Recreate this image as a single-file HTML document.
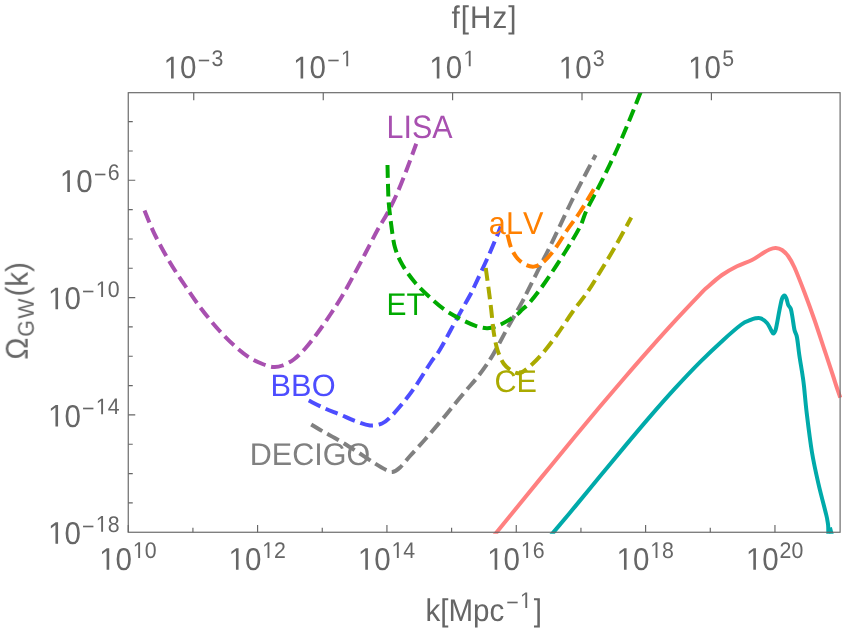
<!DOCTYPE html>
<html><head><meta charset="utf-8"><title>GW sensitivity</title>
<style>html,body{margin:0;padding:0;background:#fff;}svg{display:block;}text{font-family:"Liberation Sans",sans-serif;text-rendering:geometricPrecision;font-kerning:none;}</style></head><body>
<svg width="843" height="631" viewBox="0 0 843 631">
<rect x="0" y="0" width="843" height="631" fill="#ffffff"/>
<defs><clipPath id="clip"><rect x="128.25" y="92.70" width="713.85" height="441.15"/></clipPath><filter id="ga" filterUnits="userSpaceOnUse" x="0" y="0" width="843" height="631"><feOffset dx="0" dy="0"/></filter></defs>
<g clip-path="url(#clip)" fill="none" stroke-linejoin="round">
<path d="M493.40 536.40 C493.95 535.72 491.43 538.78 496.70 532.30 C501.97 525.82 516.12 508.40 525.00 497.50 C533.88 486.60 541.67 477.07 550.00 466.90 C558.33 456.73 566.67 446.57 575.00 436.50 C583.33 426.43 591.67 416.38 600.00 406.50 C608.33 396.62 616.67 386.85 625.00 377.20 C633.33 367.55 641.67 357.98 650.00 348.60 C658.33 339.22 666.67 329.93 675.00 320.90 C683.33 311.87 694.67 299.97 700.00 294.40 C705.33 288.83 703.33 290.73 707.00 287.50 C710.67 284.27 717.00 278.54 722.00 275.00 C727.00 271.46 732.00 268.75 737.00 266.25 C742.00 263.75 747.83 262.08 752.00 260.00 C756.17 257.92 759.08 255.50 762.00 253.75 C764.92 252.00 767.21 250.46 769.50 249.50 C771.79 248.54 773.67 247.92 775.75 248.00 C777.83 248.08 779.92 248.62 782.00 250.00 C784.08 251.38 786.17 253.33 788.25 256.25 C790.33 259.17 791.79 261.46 794.50 267.50 C797.21 273.54 801.17 283.75 804.50 292.50 C807.83 301.25 811.17 310.42 814.50 320.00 C817.83 329.58 821.45 340.83 824.50 350.00 C827.55 359.17 830.82 368.96 832.80 375.00 C834.78 381.04 835.15 382.47 836.40 386.25 C837.65 390.03 839.65 395.79 840.30 397.70" stroke="#FF8080" stroke-width="4.0"/>
<path d="M550.60 535.60 C551.13 534.98 549.73 536.73 553.80 531.90 C557.87 527.07 567.30 515.87 575.00 506.60 C582.70 497.33 591.67 486.38 600.00 476.30 C608.33 466.22 616.67 456.05 625.00 446.10 C633.33 436.15 641.67 426.22 650.00 416.60 C658.33 406.98 666.67 397.48 675.00 388.40 C683.33 379.32 692.03 370.10 700.00 362.10 C707.97 354.10 715.90 346.67 722.80 340.40 C729.70 334.13 736.87 327.87 741.40 324.50 C745.93 321.13 747.65 321.23 750.00 320.20 C752.35 319.17 753.71 318.62 755.50 318.30 C757.29 317.98 758.83 317.52 760.75 318.30 C762.67 319.08 765.33 321.13 767.00 323.00 C768.67 324.87 769.71 327.75 770.75 329.50 C771.79 331.25 772.42 333.50 773.25 333.50 C774.08 333.50 774.71 333.42 775.75 329.50 C776.79 325.58 778.46 315.12 779.50 310.00 C780.54 304.88 781.17 301.17 782.00 298.75 C782.83 296.33 783.75 295.50 784.50 295.50 C785.25 295.50 785.88 297.17 786.50 298.75 C787.12 300.33 787.54 303.33 788.25 305.00 C788.96 306.67 790.04 306.67 790.75 308.75 C791.46 310.83 791.88 313.96 792.50 317.50 C793.12 321.04 793.75 326.67 794.50 330.00 C795.25 333.33 796.20 333.33 797.00 337.50 C797.80 341.67 798.38 348.75 799.30 355.00 C800.22 361.25 801.72 369.79 802.50 375.00 C803.28 380.21 803.28 379.78 804.00 386.25 C804.72 392.72 805.47 402.76 806.80 413.80 C808.13 424.84 810.07 440.87 812.00 452.50 C813.93 464.13 816.03 473.25 818.40 483.60 C820.77 493.95 824.72 508.53 826.20 514.60 C827.68 520.67 826.98 518.27 827.30 520.00 C827.62 521.73 827.93 523.33 828.10 525.00 C828.27 526.67 828.27 528.33 828.30 530.00 C828.33 531.67 828.30 534.17 828.30 535.00" stroke="#00AAAA" stroke-width="4.0"/>
<path d="M144.50 210.50 C146.25 214.58 150.75 226.33 155.00 235.00 C159.25 243.67 164.92 253.96 170.00 262.50 C175.08 271.04 180.29 278.54 185.50 286.25 C190.71 293.96 195.71 301.46 201.25 308.75 C206.79 316.04 213.12 323.75 218.75 330.00 C224.38 336.25 229.79 341.58 235.00 346.25 C240.21 350.92 245.21 354.96 250.00 358.00 C254.79 361.04 259.79 363.00 263.75 364.50 C267.71 366.00 270.62 366.83 273.75 367.00 C276.88 367.17 279.17 366.75 282.50 365.50 C285.83 364.25 290.00 362.29 293.75 359.50 C297.50 356.71 301.04 353.17 305.00 348.75 C308.96 344.33 313.33 338.62 317.50 333.00 C321.67 327.38 326.04 320.92 330.00 315.00 C333.96 309.08 337.50 303.75 341.25 297.50 C345.00 291.25 348.54 284.75 352.50 277.50 C356.46 270.25 360.83 261.92 365.00 254.00 C369.17 246.08 373.75 236.83 377.50 230.00 C381.25 223.17 384.17 219.25 387.50 213.00 C390.83 206.75 394.17 200.08 397.50 192.50 C400.83 184.92 404.38 175.62 407.50 167.50 C410.62 159.38 414.79 147.71 416.25 143.75" stroke="#A850B0" stroke-width="4.0" stroke-dasharray="12.9 5.85"/>
<path d="M308.75 400.50 C311.46 401.83 319.79 406.17 325.00 408.50 C330.21 410.83 335.00 412.42 340.00 414.50 C345.00 416.58 350.00 419.17 355.00 421.00 C360.00 422.83 365.50 425.08 370.00 425.50 C374.50 425.92 378.67 424.83 382.00 423.50 C385.33 422.17 386.58 420.83 390.00 417.50 C393.42 414.17 398.33 408.58 402.50 403.50 C406.67 398.42 410.29 393.83 415.00 387.00 C419.71 380.17 426.58 368.75 430.75 362.50 C434.92 356.25 435.54 357.00 440.00 349.50 C444.46 342.00 452.29 326.92 457.50 317.50 C462.71 308.08 468.33 298.42 471.25 293.00 C474.17 287.58 471.88 291.75 475.00 285.00 C478.12 278.25 485.70 262.25 490.00 252.50 C494.30 242.75 499.00 230.83 500.80 226.50" stroke="#4D4DFF" stroke-width="4.0" stroke-dasharray="12.9 5.85"/>
<path d="M311.25 424.50 C313.12 425.62 317.71 428.50 322.50 431.25 C327.29 434.00 334.17 437.54 340.00 441.00 C345.83 444.46 351.67 448.25 357.50 452.00 C363.33 455.75 370.21 460.50 375.00 463.50 C379.79 466.50 383.33 468.58 386.25 470.00 C389.17 471.42 390.21 472.42 392.50 472.00 C394.79 471.58 397.08 470.17 400.00 467.50 C402.92 464.83 405.83 460.67 410.00 456.00 C414.17 451.33 419.58 445.67 425.00 439.50 C430.42 433.33 438.21 424.08 442.50 419.00 C446.79 413.92 447.00 413.55 450.75 409.00 C454.50 404.45 460.46 397.12 465.00 391.70 C469.54 386.28 473.83 381.83 478.00 376.50 C482.17 371.17 486.50 365.12 490.00 359.70 C493.50 354.28 496.08 349.28 499.00 344.00 C501.92 338.72 503.58 335.10 507.50 328.00 C511.42 320.90 519.17 307.50 522.50 301.40 C525.83 295.30 524.58 297.23 527.50 291.40 C530.42 285.57 535.83 274.73 540.00 266.40 C544.17 258.07 547.50 251.72 552.50 241.40 C557.50 231.08 565.00 214.73 570.00 204.50 C575.00 194.27 578.23 188.25 582.50 180.00 C586.77 171.75 593.42 159.17 595.60 155.00" stroke="#808080" stroke-width="4.0" stroke-dasharray="12.9 5.85"/>
<path d="M387.50 165.00 C387.58 168.33 387.79 178.67 388.00 185.00 C388.21 191.33 388.21 196.33 388.75 203.00 C389.29 209.67 390.21 217.58 391.25 225.00 C392.29 232.42 393.12 240.83 395.00 247.50 C396.88 254.17 399.17 259.17 402.50 265.00 C405.83 270.83 410.42 277.08 415.00 282.50 C419.58 287.92 425.00 292.92 430.00 297.50 C435.00 302.08 440.00 306.46 445.00 310.00 C450.00 313.54 455.00 316.15 460.00 318.75 C465.00 321.35 470.42 324.03 475.00 325.60 C479.58 327.18 483.33 328.33 487.50 328.20 C491.67 328.07 495.42 326.83 500.00 324.80 C504.58 322.77 511.25 318.58 515.00 316.00 C518.75 313.42 519.88 311.75 522.50 309.30 C525.12 306.85 527.00 305.77 530.75 301.30 C534.50 296.83 539.29 290.68 545.00 282.50 C550.71 274.32 559.17 261.48 565.00 252.20 C570.83 242.92 576.38 233.83 580.00 226.80 C583.62 219.77 583.20 217.38 586.70 210.00 C590.20 202.62 596.00 192.50 601.00 182.50 C606.00 172.50 611.95 160.42 616.70 150.00 C621.45 139.58 625.57 129.50 629.50 120.00 C633.43 110.50 638.05 98.67 640.30 93.00 C642.55 87.33 642.55 87.17 643.00 86.00" stroke="#00AA00" stroke-width="4.0" stroke-dasharray="12.9 5.85"/>
<path d="M507.50 234.50 C508.12 236.75 509.58 244.00 511.25 248.00 C512.92 252.00 515.00 255.67 517.50 258.50 C520.00 261.33 523.33 263.68 526.25 265.00 C529.17 266.32 531.88 267.15 535.00 266.40 C538.12 265.65 541.46 263.73 545.00 260.50 C548.54 257.27 552.50 252.17 556.25 247.00 C560.00 241.83 563.54 235.33 567.50 229.50 C571.46 223.67 575.53 218.83 580.00 212.00 C584.47 205.17 591.92 192.42 594.30 188.50" stroke="#FF8000" stroke-width="4.0" stroke-dasharray="12.9 5.85"/>
<path d="M485.75 268.00 C486.25 271.67 487.83 283.00 488.75 290.00 C489.67 297.00 490.42 302.92 491.25 310.00 C492.08 317.08 492.71 325.83 493.75 332.50 C494.79 339.17 495.83 344.79 497.50 350.00 C499.17 355.21 501.25 360.21 503.75 363.75 C506.25 367.29 509.79 369.71 512.50 371.25 C515.21 372.79 517.08 373.83 520.00 373.00 C522.92 372.17 526.25 369.50 530.00 366.25 C533.75 363.00 537.92 358.88 542.50 353.50 C547.08 348.12 552.50 340.92 557.50 334.00 C562.50 327.08 567.50 319.00 572.50 312.00 C577.50 305.00 582.92 298.67 587.50 292.00 C592.08 285.33 595.42 279.50 600.00 272.00 C604.58 264.50 609.79 256.08 615.00 247.00 C620.21 237.92 628.54 222.42 631.25 217.50" stroke="#AAAA00" stroke-width="4.0" stroke-dasharray="12.9 5.85"/>
<path d="M829.9 527.5L831.9 535" stroke="#00AAAA" stroke-width="4"/>
</g>
<rect x="128.25" y="92.70" width="711.85" height="439.55" fill="none" stroke="#666666" stroke-width="1.15"/>
<path d="M128.25 532.25v-7.25 M192.92 532.25v-4.50 M257.59 532.25v-7.25 M322.26 532.25v-4.50 M386.93 532.25v-7.25 M451.60 532.25v-4.50 M516.27 532.25v-7.25 M580.94 532.25v-4.50 M645.61 532.25v-7.25 M710.28 532.25v-4.50 M774.95 532.25v-7.25 M193.75 92.70v7.50 M323.25 92.70v7.50 M452.60 92.70v7.50 M582.00 92.70v7.50 M711.40 92.70v7.50 M128.25 502.92h4.50 M128.25 473.59h4.50 M128.25 444.26h4.50 M128.25 414.93h7.00 M128.25 385.60h4.50 M128.25 356.27h4.50 M128.25 326.94h4.50 M128.25 297.61h7.00 M128.25 268.28h4.50 M128.25 238.95h4.50 M128.25 209.62h4.50 M128.25 180.29h7.00 M128.25 150.96h4.50 M128.25 121.63h4.50" stroke="#666666" stroke-width="1.15" fill="none"/>
<g filter="url(#ga)">
<g transform="translate(99.18 569.70) scale(0.985 1.045)" fill="#666666"><path d="M7.544 0V-18.120L2.886 -14.795V-17.285L7.764 -20.640H10.195V0Z"/><text x="16.680" font-size="30">0</text></g><g transform="translate(132.84 557.90) scale(1.000 1.060)" fill="#666666"><path d="M5.356 0V-12.865L2.049 -10.504V-12.272L5.512 -14.654H7.239V0Z"/><text x="11.843" font-size="21.3">0</text></g>
<g transform="translate(228.52 569.70) scale(0.985 1.045)" fill="#666666"><path d="M7.544 0V-18.120L2.886 -14.795V-17.285L7.764 -20.640H10.195V0Z"/><text x="16.680" font-size="30">0</text></g><g transform="translate(262.18 557.90) scale(1.000 1.060)" fill="#666666"><path d="M5.356 0V-12.865L2.049 -10.504V-12.272L5.512 -14.654H7.239V0Z"/><text x="11.843" font-size="21.3">2</text></g>
<g transform="translate(357.86 569.70) scale(0.985 1.045)" fill="#666666"><path d="M7.544 0V-18.120L2.886 -14.795V-17.285L7.764 -20.640H10.195V0Z"/><text x="16.680" font-size="30">0</text></g><g transform="translate(391.52 557.90) scale(1.000 1.060)" fill="#666666"><path d="M5.356 0V-12.865L2.049 -10.504V-12.272L5.512 -14.654H7.239V0Z"/><text x="11.843" font-size="21.3">4</text></g>
<g transform="translate(487.20 569.70) scale(0.985 1.045)" fill="#666666"><path d="M7.544 0V-18.120L2.886 -14.795V-17.285L7.764 -20.640H10.195V0Z"/><text x="16.680" font-size="30">0</text></g><g transform="translate(520.86 557.90) scale(1.000 1.060)" fill="#666666"><path d="M5.356 0V-12.865L2.049 -10.504V-12.272L5.512 -14.654H7.239V0Z"/><text x="11.843" font-size="21.3">6</text></g>
<g transform="translate(616.54 569.70) scale(0.985 1.045)" fill="#666666"><path d="M7.544 0V-18.120L2.886 -14.795V-17.285L7.764 -20.640H10.195V0Z"/><text x="16.680" font-size="30">0</text></g><g transform="translate(650.20 557.90) scale(1.000 1.060)" fill="#666666"><path d="M5.356 0V-12.865L2.049 -10.504V-12.272L5.512 -14.654H7.239V0Z"/><text x="11.843" font-size="21.3">8</text></g>
<g transform="translate(745.88 569.70) scale(0.985 1.045)" fill="#666666"><path d="M7.544 0V-18.120L2.886 -14.795V-17.285L7.764 -20.640H10.195V0Z"/><text x="16.680" font-size="30">0</text></g><text transform="translate(779.54 557.90) scale(1.000 1.060)" font-size="21.3" fill="#666666">20</text>
<g transform="translate(163.63 78.40) scale(0.985 1.045)" fill="#666666"><path d="M7.544 0V-18.120L2.886 -14.795V-17.285L7.764 -20.640H10.195V0Z"/><text x="16.680" font-size="30">0</text></g><text transform="translate(197.69 68.10) scale(1.000 1.060)" font-size="21.3" fill="#666666">−</text><text transform="translate(211.43 66.20) scale(1.000 1.060)" font-size="21.3" fill="#666666">3</text>
<g transform="translate(293.13 78.40) scale(0.985 1.045)" fill="#666666"><path d="M7.544 0V-18.120L2.886 -14.795V-17.285L7.764 -20.640H10.195V0Z"/><text x="16.680" font-size="30">0</text></g><text transform="translate(327.19 68.10) scale(1.000 1.060)" font-size="21.3" fill="#666666">−</text><g transform="translate(340.93 66.20) scale(1.000 1.060)" fill="#666666"><path d="M5.356 0V-12.865L2.049 -10.504V-12.272L5.512 -14.654H7.239V0Z"/></g>
<g transform="translate(429.35 78.40) scale(0.985 1.045)" fill="#666666"><path d="M7.544 0V-18.120L2.886 -14.795V-17.285L7.764 -20.640H10.195V0Z"/><text x="16.680" font-size="30">0</text></g><g transform="translate(463.41 66.20) scale(1.000 1.060)" fill="#666666"><path d="M5.356 0V-12.865L2.049 -10.504V-12.272L5.512 -14.654H7.239V0Z"/></g>
<g transform="translate(558.75 78.40) scale(0.985 1.045)" fill="#666666"><path d="M7.544 0V-18.120L2.886 -14.795V-17.285L7.764 -20.640H10.195V0Z"/><text x="16.680" font-size="30">0</text></g><text transform="translate(592.81 66.20) scale(1.000 1.060)" font-size="21.3" fill="#666666">3</text>
<g transform="translate(688.15 78.40) scale(0.985 1.045)" fill="#666666"><path d="M7.544 0V-18.120L2.886 -14.795V-17.285L7.764 -20.640H10.195V0Z"/><text x="16.680" font-size="30">0</text></g><text transform="translate(722.21 66.20) scale(1.000 1.060)" font-size="21.3" fill="#666666">5</text>
<g transform="translate(59.86 191.89) scale(0.985 1.045)" fill="#666666"><path d="M7.544 0V-18.120L2.886 -14.795V-17.285L7.764 -20.640H10.195V0Z"/><text x="16.680" font-size="30">0</text></g><text transform="translate(93.92 181.59) scale(1.000 1.060)" font-size="21.3" fill="#666666">−</text><text transform="translate(107.66 179.69) scale(1.000 1.060)" font-size="21.3" fill="#666666">6</text>
<g transform="translate(48.02 309.21) scale(0.985 1.045)" fill="#666666"><path d="M7.544 0V-18.120L2.886 -14.795V-17.285L7.764 -20.640H10.195V0Z"/><text x="16.680" font-size="30">0</text></g><text transform="translate(82.08 298.91) scale(1.000 1.060)" font-size="21.3" fill="#666666">−</text><g transform="translate(95.81 297.01) scale(1.000 1.060)" fill="#666666"><path d="M5.356 0V-12.865L2.049 -10.504V-12.272L5.512 -14.654H7.239V0Z"/><text x="11.843" font-size="21.3">0</text></g>
<g transform="translate(48.02 426.53) scale(0.985 1.045)" fill="#666666"><path d="M7.544 0V-18.120L2.886 -14.795V-17.285L7.764 -20.640H10.195V0Z"/><text x="16.680" font-size="30">0</text></g><text transform="translate(82.08 416.23) scale(1.000 1.060)" font-size="21.3" fill="#666666">−</text><g transform="translate(95.81 414.33) scale(1.000 1.060)" fill="#666666"><path d="M5.356 0V-12.865L2.049 -10.504V-12.272L5.512 -14.654H7.239V0Z"/><text x="11.843" font-size="21.3">4</text></g>
<g transform="translate(48.02 543.85) scale(0.985 1.045)" fill="#666666"><path d="M7.544 0V-18.120L2.886 -14.795V-17.285L7.764 -20.640H10.195V0Z"/><text x="16.680" font-size="30">0</text></g><text transform="translate(82.08 533.55) scale(1.000 1.060)" font-size="21.3" fill="#666666">−</text><g transform="translate(95.81 531.65) scale(1.000 1.060)" fill="#666666"><path d="M5.356 0V-12.865L2.049 -10.504V-12.272L5.512 -14.654H7.239V0Z"/><text x="11.843" font-size="21.3">8</text></g>
<text transform="translate(451.52 27.90) scale(0.985 1.045)" font-size="30" fill="#666666" letter-spacing="1.07">f[Hz]</text>
<text transform="translate(425.50 621.00) scale(0.985 1.045)" font-size="30" fill="#666666">k[Mpc</text><text transform="translate(506.21 609.90) scale(1.000 1.060)" font-size="21.3" fill="#666666">−</text><g transform="translate(519.95 608.00) scale(1.000 1.060)" fill="#666666"><path d="M5.356 0V-12.865L2.049 -10.504V-12.272L5.512 -14.654H7.239V0Z"/></g><text transform="translate(533.69 621.00) scale(0.985 1.045)" font-size="30" fill="#666666">]</text>
<g transform="translate(27.7 310.9) rotate(-90)"><text transform="translate(-48.84 0.00) scale(0.985 1.045)" font-size="30" fill="#666666">Ω</text><text transform="translate(-25.64 5.70) scale(1.000 1.060)" font-size="21.3" fill="#666666" letter-spacing="1.35">GW</text><text transform="translate(14.38 0.00) scale(0.985 1.045)" font-size="30" fill="#666666">(k)</text></g>
<text transform="translate(386.60 137.70) scale(1.050 1.120)" font-size="29" fill="#A850B0">LISA</text>
<text transform="translate(386.50 314.70) scale(1.033 1.080)" font-size="29" fill="#00AA00">ET</text>
<text transform="translate(270.60 396.40) scale(1.061 1.065)" font-size="29" fill="#4D4DFF">BBO</text>
<text transform="translate(249.80 465.20) scale(1.053 1.080)" font-size="29" fill="#808080">DECIGO</text>
<text transform="translate(488.85 233.90) scale(1.056 1.090)" font-size="29" fill="#FF8000">aLV</text>
<text transform="translate(494.50 392.40) scale(1.055 1.080)" font-size="29" fill="#AAAA00">CE</text>
</g>
</svg></body></html>
